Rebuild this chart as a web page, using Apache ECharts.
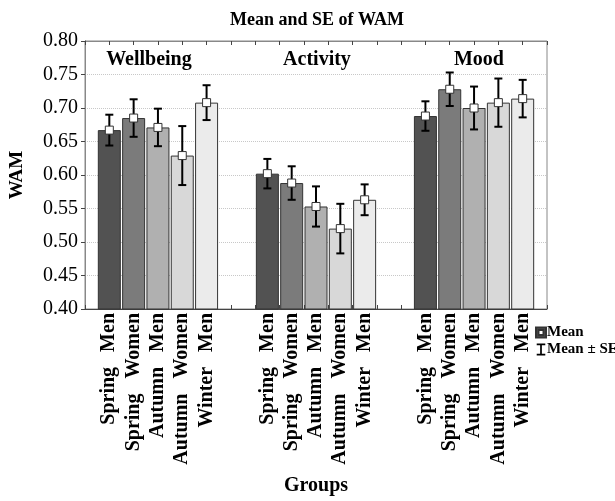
<!DOCTYPE html>
<html>
<head>
<meta charset="utf-8">
<script src="https://cdn.jsdelivr.net/npm/echarts@6/dist/echarts.min.js"></script>
<style>
html,body{margin:0;padding:0;background:#fff;}
#chart{width:615px;height:501px;}
</style>
</head>
<body>
<div id="chart"></div>
<script>
// Group names and bar labels
const groupNames = ['Wellbeing', 'Activity', 'Mood'];
const barLabels = ['Spring   Men', 'Spring   Women', 'Autumn   Men', 'Autumn   Women', 'Winter   Men'];

// Means and standard errors per group (one value per bar label)
const wellbeingMean = [0.667, 0.685, 0.671, 0.629, 0.708];
const wellbeingSE   = [0.023, 0.028, 0.028, 0.044, 0.026];
const activityMean  = [0.602, 0.588, 0.553, 0.520, 0.563];
const activitySE    = [0.022, 0.025, 0.030, 0.037, 0.023];
const moodMean      = [0.688, 0.728, 0.700, 0.708, 0.714];
const moodSE        = [0.022, 0.025, 0.032, 0.036, 0.028];

// Y axis range and step
const yMin = 0.40, yMax = 0.80, yStep = 0.05;

const FONT = 'Liberation Serif';
const barColors = ['#525252', '#7b7b7b', '#b0b0b0', '#d8d8d8', '#ebebeb'];
const groupStart = [1, 7.5, 14];          // x slot of the first bar in each group
const groupLabelShift = [-0.37, 0.04, 0.2]; // nudge of each group heading from its centre
const xMax = 19;

const means = [wellbeingMean, activityMean, moodMean];
const ses = [wellbeingSE, activitySE, moodSE];

const barData = [], meanData = [], errData = [];
means.forEach((arr, g) => {
  arr.forEach((m, i) => {
    const x = groupStart[g] + i;
    barData.push({ value: [x, m], itemStyle: { color: barColors[i] } });
    meanData.push([x, m]);
    errData.push([x, m - ses[g][i], m + ses[g][i]]);
  });
});
const groupLabelData = groupNames.map((n, g) => [groupStart[g] + 2 + groupLabelShift[g], yMax - 0.028]);

function labelAt(v) {
  for (let g = 0; g < groupStart.length; g++) {
    for (let i = 0; i < barLabels.length; i++) {
      if (Math.abs(groupStart[g] + i - v) < 1e-6) return barLabels[i];
    }
  }
  return '';
}

const chart = echarts.init(document.getElementById('chart'));
chart.setOption({
  animation: false,
  backgroundColor: '#fff',
  title: {
    text: 'Mean and SE of WAM',
    left: 312,
    textAlign: 'center',
    top: 6,
    textStyle: { fontFamily: FONT, fontWeight: 'bold', fontSize: 18, color: '#000' }
  },
  legend: {
    orient: 'vertical',
    left: 535,
    top: 325,
    padding: 0,
    itemGap: 2,
    itemWidth: 10,
    itemHeight: 12,
    textStyle: { fontFamily: FONT, fontWeight: 'bold', fontSize: 15, color: '#000', padding: [0, 0, 0, -4] },
    data: [
      { name: 'Mean', icon: 'path://M0,0H12V12H0Z M3,3V9H9V3Z', itemStyle: { color: '#555' } },
      { name: 'Mean ± SE', icon: 'path://M0,0H10V2H6V12H10V14H0V12H4V2H0Z', itemStyle: { color: '#000' } }
    ]
  },
  grid: { left: 77, right: 68, top: 41, bottom: 187, show: true, borderColor: '#888', borderWidth: 1 },
  xAxis: [
    {
      type: 'value', min: 0, max: xMax, interval: 0.5, position: 'bottom',
      name: 'Groups', nameLocation: 'middle', nameGap: 167,
      nameTextStyle: { fontFamily: FONT, fontWeight: 'bold', fontSize: 20, color: '#000' },
      axisLine: { show: true, lineStyle: { color: '#444', width: 1 } },
      axisTick: { show: false },
      splitLine: { show: false },
      axisLabel: {
        rotate: 90, margin: 4, formatter: labelAt,
        fontFamily: FONT, fontWeight: 'bold', fontSize: 20, color: '#000'
      }
    },
    {
      type: 'value', min: 0, max: xMax, interval: 1, position: 'top',
      axisLine: { show: true, lineStyle: { color: '#888' } },
      axisTick: { show: true, inside: true, length: 4, lineStyle: { color: '#444' } },
      axisLabel: { show: false }, splitLine: { show: false }
    },
    {
      type: 'value', min: 0, max: xMax, interval: 1, position: 'bottom',
      axisLine: { show: false },
      axisTick: { show: true, inside: true, length: 4, lineStyle: { color: '#444' } },
      axisLabel: { show: false }, splitLine: { show: false }
    }
  ],
  yAxis: [
    {
      type: 'value', min: yMin, max: yMax, interval: yStep,
      name: 'WAM', nameLocation: 'middle', nameGap: 58, nameRotate: 90,
      nameTextStyle: { fontFamily: FONT, fontWeight: 'bold', fontSize: 19, color: '#000' },
      axisLine: { show: true, lineStyle: { color: '#444' } },
      axisTick: { show: false },
      axisLabel: {
        margin: 7, formatter: v => v.toFixed(2),
        fontFamily: FONT, fontSize: 20, color: '#000'
      },
      splitLine: { show: true, lineStyle: { color: '#c8c8c8', type: 'dotted', width: 1 } }
    },
    {
      type: 'value', min: yMin, max: yMax, interval: yStep, position: 'right',
      axisLine: { show: true, lineStyle: { color: '#888' } },
      axisTick: { show: true, inside: true, length: 4, lineStyle: { color: '#444' } },
      axisLabel: { show: false }, splitLine: { show: false }
    }
  ],
  series: [
    {
      type: 'bar', name: 'bars', data: barData, barWidth: 23,
      itemStyle: { borderColor: '#333', borderWidth: 1 },
      silent: true, z: 2
    },
    {
      type: 'custom', name: 'Mean ± SE', data: errData, z: 3,
      renderItem: (params, api) => {
        const x = api.value(0);
        const lo = api.coord([x, api.value(1)]);
        const hi = api.coord([x, api.value(2)]);
        const w = 4;
        const style = { stroke: '#000', lineWidth: 2, fill: null };
        return {
          type: 'group',
          children: [
            { type: 'line', shape: { x1: lo[0], y1: lo[1], x2: hi[0], y2: hi[1] }, style },
            { type: 'line', shape: { x1: lo[0] - w, y1: lo[1], x2: lo[0] + w, y2: lo[1] }, style },
            { type: 'line', shape: { x1: hi[0] - w, y1: hi[1], x2: hi[0] + w, y2: hi[1] }, style }
          ]
        };
      }
    },
    {
      type: 'scatter', name: 'Mean', data: meanData, symbol: 'rect', symbolSize: 8, z: 4,
      itemStyle: { color: '#fff', borderColor: '#333', borderWidth: 1, opacity: 1 }
    },
    {
      type: 'custom', name: 'groupLabels', data: groupLabelData, z: 5, silent: true,
      renderItem: (params, api) => {
        const p = api.coord([api.value(0), api.value(1)]);
        return {
          type: 'text', x: p[0], y: p[1],
          style: {
            text: groupNames[params.dataIndex], align: 'center', verticalAlign: 'middle',
            font: 'bold 20px "Liberation Serif"', fill: '#000'
          }
        };
      }
    }
  ]
});
</script>
</body>
</html>
